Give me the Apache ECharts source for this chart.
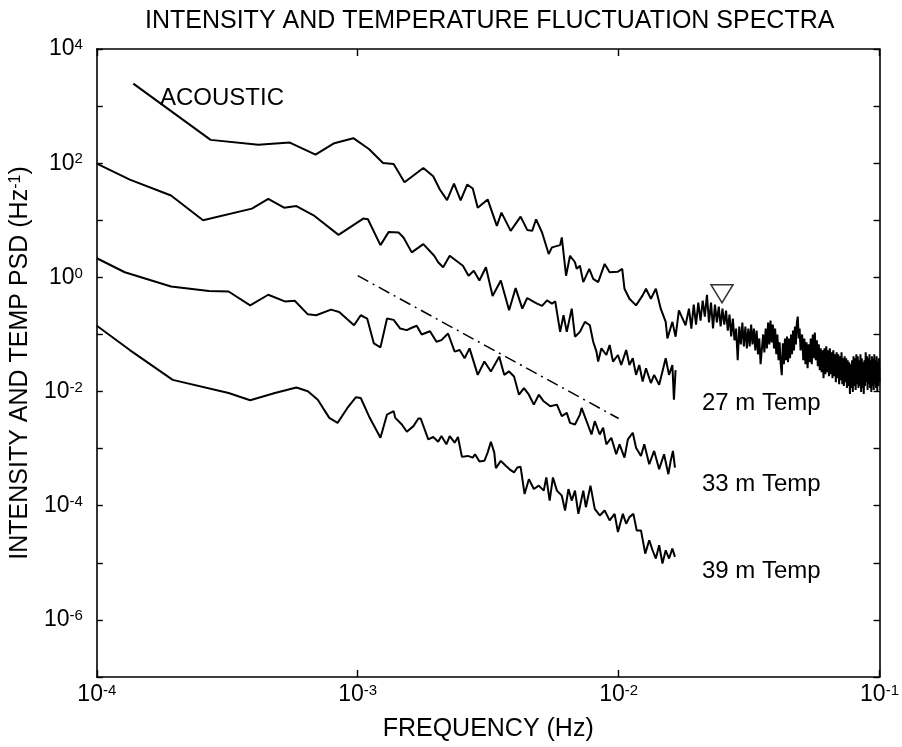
<!DOCTYPE html>
<html>
<head>
<meta charset="utf-8">
<script src="https://cdn.jsdelivr.net/npm/echarts@6/dist/echarts.min.js"></script>
<style>html,body{margin:0;padding:0;background:#fff}#c{width:902px;height:747px}</style>
</head>
<body>
<div id="c"></div>
<script>
const titleText = 'INTENSITY AND TEMPERATURE FLUCTUATION SPECTRA';
const xName = 'FREQUENCY (Hz)';
const yName = 'INTENSITY AND TEMP PSD (Hz{s|-1})';
const xTicks = [1e-4, 1e-3, 1e-2, 1e-1];
const yTicks = [1e-7, 1e-6, 1e-5, 1e-4, 1e-3, 1e-2, 1e-1, 1, 1e1, 1e2, 1e3, 1e4];
const yLabelTicks = [1e-6, 1e-4, 1e-2, 1, 1e2, 1e4];
const seriesNames = ['ACOUSTIC', '27 m Temp', '33 m Temp', '39 m Temp'];

// [frequency (Hz), PSD (Hz^-1)]
const acoustic = [
[1.38e-4,2480],[2.73e-4,256],[4.16e-4,210],[5.49e-4,230],[6.89e-4,141],[8.13e-4,224],[9.62e-4,274],
[1.104e-3,177],[1.25e-3,101],[1.373e-3,96.8],[1.511e-3,46.3],[1.784e-3,82.6],[1.947e-3,58.9],[2.064e-3,34.6],
[2.2e-3,22.5],[2.339e-3,44.0],[2.48e-3,22.3],[2.627e-3,42.3],[2.76e-3,36.0],[2.884e-3,16.6],[3.148e-3,23.2],
[3.414e-3,7.96],[3.556e-3,13.6],[3.857e-3,6.52],[4.21e-3,11.6],[4.463e-3,6.78],[4.662e-3,6.52],[4.827e-3,10.4],
[5.087e-3,6.11],[5.394e-3,2.56],[5.552e-3,3.35],[5.967e-3,3.67],[6.056e-3,5.0],[6.288e-3,1.07],[6.512e-3,2.39],
[6.803e-3,1.84],[6.904e-3,1.41],[7.106e-3,1.60],[7.32e-3,0.825],[7.717e-3,1.41],[7.99e-3,0.942],[8.347e-3,0.825],
[8.84e-3,1.72],[9.237e-3,1.23],[9.94e-3,1.26],[1.032e-2,1.41],[1.053e-2,0.631],[1.1e-2,0.423],[1.166e-2,0.323],
[1.236e-2,0.483],[1.273e-2,0.631],[1.329e-2,0.423],[1.389e-2,0.631],[1.45e-2,0.283],[1.515e-2,0.166],[1.538e-2,0.0852],
[1.607e-2,0.166],[1.653e-2,0.0912],[1.702e-2,0.265],[1.805e-2,0.145],
[0.0186,0.283],[0.0190,0.127],[0.0194,0.332],[0.0198,0.149],[0.0202,0.360],[0.0206,0.175],[0.0210,0.390],
[0.0214,0.206],[0.0218,0.496],[0.0222,0.162],[0.0226,0.360],[0.0230,0.127],[0.0234,0.332],[0.0238,0.162],
[0.0242,0.307],[0.0246,0.138],[0.0250,0.283],[0.0254,0.149],[0.0258,0.262],[0.0262,0.117],[0.0266,0.223],
[0.0270,0.0923],[0.0274,0.190],[0.0278,0.0787],[0.0282,0.127],[0.0286,0.0353],[0.0290,0.138],[0.0294,0.0670],
[0.0298,0.162],[0.0302,0.0618],[0.0306,0.138],[0.0310,0.0571],[0.0314,0.127],[0.0318,0.0618],[0.0322,0.149],
[0.0326,0.0670],[0.0330,0.127],[0.0334,0.0527],[0.0338,0.117],[0.0342,0.0449],[0.0346,0.0852],[0.0350,0.0301],
[0.0354,0.0278],[0.0358,0.100],[0.0362,0.0486],[0.0366,0.127],[0.0370,0.0571],[0.0374,0.162],[0.0378,0.0670],
[0.0382,0.175],[0.0386,0.0726],[0.0390,0.149],[0.0394,0.0571],[0.0398,0.127],[0.0402,0.0449],[0.0406,0.100],
[0.0410,0.0353],[0.0414,0.0726],[0.0418,0.0301],[0.0422,0.0194],[0.0426,0.0697],[0.0430,0.0301],[0.0434,0.0852],
[0.0438,0.0353],[0.0442,0.0923],[0.0446,0.0326],[0.0450,0.0852],[0.0454,0.0382],[0.0458,0.100],[0.0462,0.0449],
[0.0466,0.117],[0.0470,0.0527],[0.0474,0.138],[0.0478,0.0670],[0.0482,0.162],[0.0486,0.206],[0.0490,0.0852],
[0.0494,0.127],[0.0498,0.0527],
[0.0505,0.100],[0.0510,0.0353],[0.0515,0.0852],[0.0520,0.0301],[0.0525,0.0726],[0.0530,0.0256],[0.0535,0.0670],
[0.0540,0.0326],[0.0545,0.0852],[0.0550,0.0301],[0.0555,0.100],[0.0560,0.0382],[0.0565,0.108],[0.0570,0.0353],
[0.0575,0.0787],[0.0580,0.0278],[0.0585,0.0670],[0.0590,0.0237],[0.0595,0.0571],[0.0600,0.0218],[0.0605,0.0527],
[0.0610,0.0172],[0.0615,0.0571],[0.0620,0.0201],[0.0625,0.0618],[0.0630,0.0218],[0.0635,0.0527],[0.0640,0.0186],
[0.0645,0.0571],[0.0650,0.0201],[0.0655,0.0486],[0.0660,0.0172],[0.0665,0.0527],[0.0670,0.0186],[0.0675,0.0449],
[0.0680,0.0146],[0.0685,0.0486],[0.0690,0.0172],[0.0695,0.0449],[0.0700,0.0135],[0.0705,0.0414],[0.0710,0.0158],
[0.0715,0.0486],[0.0720,0.0135],[0.0725,0.0382],[0.0730,0.0125],[0.0735,0.0414],[0.0740,0.0146],[0.0745,0.0382],
[0.0750,0.0115],[0.0755,0.0353],[0.0760,0.0125],[0.0765,0.0326],[0.0770,0.00904],[0.0775,0.0301],[0.0780,0.0115],
[0.0785,0.0353],[0.0790,0.0098],[0.0795,0.0414],[0.0800,0.0125],[0.0805,0.0382],[0.0810,0.0106],[0.0815,0.0449],
[0.0820,0.0135],[0.0825,0.0414],[0.0830,0.0115],[0.0835,0.0353],[0.0840,0.0125],[0.0845,0.0449],[0.0850,0.0098],
[0.0855,0.0382],[0.0860,0.0115],[0.0865,0.0326],[0.0870,0.00904],[0.0875,0.0353],[0.0880,0.0125],[0.0885,0.0486],
[0.0890,0.0146],[0.0895,0.0414],[0.0900,0.0106],[0.0905,0.0382],[0.0910,0.0135],[0.0915,0.0449],[0.0920,0.0115],
[0.0925,0.0353],[0.0930,0.0098],[0.0935,0.0414],[0.0940,0.0125],[0.0945,0.0382],[0.0950,0.0106],[0.0955,0.0449],
[0.0960,0.0135],[0.0965,0.0353],[0.0970,0.0115],[0.0975,0.0414],[0.0980,0.0098],[0.0985,0.0326],[0.0990,0.0125],
[0.0995,0.0382],[0.1000,0.0146]
];

const temp27 = [
[1e-4,98.0],[1.338e-4,51.6],[1.925e-4,27.2],[2.553e-4,10.0],[3.93e-4,16.0],[4.54e-4,23.8],[5.22e-4,16.6],
[5.82e-4,17.7],[6.83e-4,11.9],[8.44e-4,5.55],[1.05e-3,10.7],[1.094e-3,10.4],[1.222e-3,3.67],[1.315e-3,6.26],
[1.434e-3,6.11],[1.498e-3,5.0],[1.611e-3,2.74],[1.784e-3,3.83],[1.964e-3,2.39],[2.034e-3,1.84],[2.125e-3,1.50],
[2.252e-3,2.39],[2.53e-3,1.60],[2.659e-3,1.07],[2.785e-3,1.31],[2.927e-3,0.880],[3.1e-3,1.50],[3.288e-3,0.471],
[3.535e-3,0.880],[3.803e-3,0.265],[4.029e-3,0.649],[4.273e-3,0.283],[4.463e-3,0.435],[4.732e-3,0.371],
[4.871e-3,0.346],[5.087e-3,0.316],[5.315e-3,0.395],[5.552e-3,0.346],[5.715e-3,0.379],[5.967e-3,0.111],
[6.148e-3,0.217],[6.328e-3,0.111],[6.61e-3,0.283],[6.803e-3,0.0912],[7.106e-3,0.111],[7.424e-3,0.166],
[7.756e-3,0.145],[7.99e-3,0.0746],[8.222e-3,0.050],[8.347e-3,0.0335],[8.59e-3,0.0571],[8.974e-3,0.0437],
[9.237e-3,0.0652],[9.515e-3,0.0335],[9.94e-3,0.0437],[1.023e-2,0.0292],[1.069e-2,0.0533],[1.1e-2,0.0292],
[1.133e-2,0.0382],[1.166e-2,0.0196],[1.2e-2,0.0292],[1.236e-2,0.0150],[1.273e-2,0.0256],[1.329e-2,0.0141],
[1.368e-2,0.0196],[1.43e-2,0.0131],[1.472e-2,0.0225],[1.515e-2,0.0382],[1.56e-2,0.0196],[1.607e-2,0.0292],
[1.629e-2,0.0072],[1.653e-2,0.0237]
];

const temp33 = [
[1e-4,2.16],[1.28e-4,1.23],[1.925e-4,0.692],[2.69e-4,0.575],[3.2e-4,0.566],[3.87e-4,0.323],[4.54e-4,0.496],
[5.255e-4,0.379],[5.735e-4,0.390],[6.44e-4,0.225],[6.93e-4,0.217],[7.9e-4,0.272],[8.49e-4,0.248],[9.68e-4,0.145],
[1.027e-3,0.217],[1.087e-3,0.190],[1.153e-3,0.0697],[1.222e-3,0.0594],[1.295e-3,0.190],[1.373e-3,0.18],
[1.455e-3,0.127],[1.542e-3,0.119],[1.611e-3,0.131],[1.683e-3,0.142],[1.758e-3,0.100],[1.892e-3,0.114],
[2.004e-3,0.0746],[2.093e-3,0.0796],[2.219e-3,0.104],[2.353e-3,0.050],[2.458e-3,0.0533],[2.568e-3,0.0382],
[2.683e-3,0.0571],[2.884e-3,0.0196],[3.058e-3,0.0335],[3.239e-3,0.0225],[3.486e-3,0.0409],[3.642e-3,0.0196],
[3.803e-3,0.0225],[3.973e-3,0.0184],[4.15e-3,0.0088],[4.336e-3,0.0115],[4.529e-3,0.0088],[4.732e-3,0.0059],
[4.943e-3,0.0088],[5.163e-3,0.00675],[5.47e-3,0.00553],[5.8e-3,0.0059],[6.056e-3,0.0037],[6.328e-3,0.00423],
[6.512e-3,0.00283],[6.803e-3,0.00265],[7.106e-3,0.00395],[7.212e-3,0.00516],[7.535e-3,0.00303],[7.871e-3,0.00177],
[8.101e-3,0.00303],[8.465e-3,0.00177],[8.72e-3,0.00232],[8.974e-3,0.00119],[9.376e-3,0.00155],[9.79e-3,0.000796],
[1.008e-2,0.00119],[1.053e-2,0.000697],[1.085e-2,0.00145],[1.133e-2,0.0019],[1.166e-2,0.00104],[1.218e-2,0.000746],
[1.254e-2,0.00119],[1.31e-2,0.000533],[1.368e-2,0.000912],[1.43e-2,0.000437],[1.493e-2,0.000796],[1.551e-2,0.000357],
[1.583e-2,0.000611],[1.615e-2,0.000912],[1.644e-2,0.000467]
];

const temp39 = [
[1e-4,0.142],[1.338e-4,0.0533],[1.954e-4,0.0160],[3.2e-4,0.00942],[3.87e-4,0.00703],[4.815e-4,0.00942],
[5.82e-4,0.0118],[6.44e-4,0.0101],[7.03e-4,0.0072],[7.78e-4,0.00346],[8.37e-4,0.00283],[9.13e-4,0.00516],
[9.83e-4,0.00793],[1.027e-3,0.00771],[1.104e-3,0.0037],[1.222e-3,0.00155],[1.295e-3,0.00395],[1.373e-3,0.00453],
[1.393e-3,0.00346],[1.476e-3,0.00265],[1.542e-3,0.00198],[1.635e-3,0.00248],[1.708e-3,0.00337],[1.743e-3,0.00337],
[1.864e-3,0.00145],[1.947e-3,0.0016],[2.034e-3,0.00132],[2.093e-3,0.00166],[2.187e-3,0.00119],[2.252e-3,0.00166],
[2.353e-3,0.00127],[2.422e-3,0.0016],[2.508e-3,0.000717],[2.643e-3,0.000746],[2.76e-3,0.000697],[2.817e-3,0.000796],
[2.927e-3,0.000594],[3.058e-3,0.000611],[3.147e-3,0.000852],[3.239e-3,0.00132],[3.337e-3,0.000852],[3.384e-3,0.000454],
[3.535e-3,0.000611],[3.693e-3,0.0005],[3.857e-3,0.00042],[3.973e-3,0.000383],[4.09e-3,0.000467],[4.21e-3,0.000481],
[4.36e-3,0.00016],[4.529e-3,0.000292],[4.732e-3,0.000196],[4.943e-3,0.000225],[5.163e-3,0.000184],[5.282e-3,0.000313],
[5.44e-3,0.000123],[5.6e-3,0.000313],[5.8e-3,0.000184],[6.056e-3,0.00015],[6.234e-3,0.0000825],[6.422e-3,0.000196],
[6.61e-3,0.000123],[6.803e-3,0.000184],[7.01e-3,0.000072],[7.32e-3,0.000184],[7.49e-3,0.0000942],[7.8e-3,0.000225],
[8.101e-3,0.000088],[8.465e-3,0.0000675],[8.84e-3,0.0000825],[9.237e-3,0.0000553],[9.65e-3,0.000072],
[9.94e-3,0.0000346],[1.038e-2,0.000072],[1.069e-2,0.0000483],[1.1e-2,0.0000631],[1.139e-2,0.000072],
[1.173e-2,0.000037],[1.218e-2,0.000037],[1.265e-2,0.0000145],[1.31e-2,0.0000248],[1.349e-2,0.0000166],
[1.389e-2,0.0000119],[1.43e-2,0.0000203],[1.472e-2,0.00000972],[1.515e-2,0.0000166],[1.56e-2,0.0000119],
[1.607e-2,0.0000177],[1.644e-2,0.0000127]
];

const slopeLine = [[1e-3, 1.07], [1e-2, 3.37e-3]];
const peakMarker = [[0.0249, 0.516]];

const FONT = "'Liberation Sans', Arial, Helvetica, sans-serif";
const chart = echarts.init(document.getElementById('c'), null, {renderer: 'canvas'});

function powLabel(v) {
  const e = Math.round(Math.log10(v));
  return '{b|10}{s|' + e + '}';
}
const tickRich = {
  b: {fontSize: 23, fontFamily: FONT, color: '#000', lineHeight: 23, padding: [6, 0, 6, 0]},
  s: {fontSize: 15, fontFamily: FONT, color: '#000', lineHeight: 15, verticalAlign: 'top'}
};
const lineAx = {show: true, onZero: false, lineStyle: {color: '#000', width: 1.6}};

function mkX(pos, labels) {
  return {
    type: 'log', logBase: 10, min: 1e-4, max: 1e-1, position: pos, gridIndex: 0,
    axisLine: lineAx,
    axisTick: {show: true, inside: true, length: 7, customValues: xTicks, lineStyle: {color: '#000', width: 1.4}},
    minorTick: {show: false}, splitLine: {show: false},
    axisLabel: labels ? {show: true, customValues: xTicks, formatter: powLabel, margin: 6, rich: tickRich} : {show: false},
    name: labels ? xName : '', nameLocation: 'middle', nameGap: 40,
    nameTextStyle: {fontSize: 25, fontFamily: FONT, color: '#000'}
  };
}
function mkY(pos, labels) {
  return {
    type: 'log', logBase: 10, min: 1e-7, max: 1e4, position: pos, gridIndex: 0,
    axisLine: lineAx,
    axisTick: {show: true, inside: true, length: 6, customValues: yTicks, lineStyle: {color: '#000', width: 1.4}},
    minorTick: {show: false}, splitLine: {show: false},
    axisLabel: labels ? {show: true, customValues: yLabelTicks, formatter: powLabel, margin: 14, rich: tickRich} : {show: false},
    name: labels ? yName : '', nameLocation: 'middle', nameRotate: 90, nameGap: 62,
    nameTextStyle: {fontSize: 25, fontFamily: FONT, color: '#000',
      rich: {s: {fontSize: 16, fontFamily: FONT, color: '#000', verticalAlign: 'top'}}}
  };
}
function mkLine(name, data) {
  return {
    name: name, type: 'line', xAxisIndex: 0, yAxisIndex: 0, data: data,
    symbol: 'none', showSymbol: false, smooth: false, silent: true, animation: false,
    lineStyle: {color: '#000', width: 2}
  };
}
function mkText(str, x, y) {
  return {type: 'text', x: x, y: y, silent: true,
    style: {text: str, font: '24px ' + FONT, fill: '#000', textAlign: 'left', align: 'left',
      textVerticalAlign: 'middle', verticalAlign: 'middle'}};
}

chart.setOption({
  backgroundColor: '#fff',
  animation: false,
  title: {text: titleText, left: 140, top: 4,
    textStyle: {fontSize: 25, fontWeight: 'normal', fontFamily: FONT, color: '#000'}},
  grid: {left: 95, right: 16, top: 49, bottom: 66, containLabel: false},
  xAxis: [mkX('bottom', true), mkX('top', false)],
  yAxis: [mkY('left', true), mkY('right', false)],
  series: [
    mkLine(seriesNames[0], acoustic),
    mkLine(seriesNames[1], temp27),
    mkLine(seriesNames[2], temp33),
    mkLine(seriesNames[3], temp39),
    {name: 'slope', type: 'line', data: slopeLine, symbol: 'none', silent: true, animation: false,
      lineStyle: {color: '#000', width: 1.5, type: [12, 5, 2, 5]}},
    {name: 'peak', type: 'scatter', data: peakMarker, symbol: 'triangle', symbolRotate: 180,
      symbolSize: [22, 18], silent: true, z: 5,
      itemStyle: {color: '#fff', borderColor: '#000', borderWidth: 1.5}}
  ],
  graphic: [
    mkText(seriesNames[0], 160, 98),
    mkText(seriesNames[1], 702, 403),
    mkText(seriesNames[2], 702, 484),
    mkText(seriesNames[3], 702, 571)
  ]
});
</script>
</body>
</html>
